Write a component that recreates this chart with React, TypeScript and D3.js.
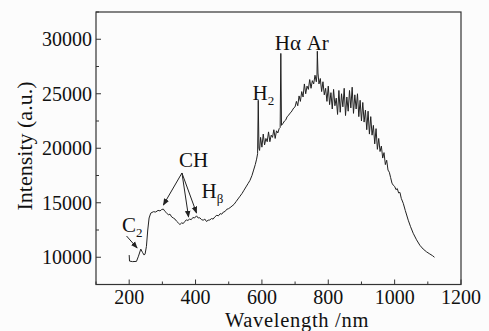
import { useMemo } from 'react'
import * as d3 from 'd3'

// spectrum: [wavelength nm, intensity a.u.]
const lowBand: [number, number][] = [
  [200, 10200], [201, 9650], [210, 9600], [222, 9620], [228, 10100], [235, 10750],
  [240, 10450], [245, 10200], [248, 10300], [252, 11000], [256, 12500], [260, 13600],
  [265, 14050], [273, 14180], [280, 14150], [287, 14300], [293, 14250], [298, 14380],
  [303, 14420], [308, 14200], [313, 14050], [318, 13900], [323, 13950], [328, 13700],
  [333, 13600], [338, 13500], [343, 13300], [348, 13150], [353, 13000], [358, 13150],
  [363, 13100], [368, 13300], [372, 13420], [377, 13380], [382, 13500], [387, 13450],
  [392, 13650], [397, 13600], [403, 13800], [408, 13600], [413, 13620], [418, 13450],
  [423, 13400], [428, 13500], [433, 13280], [438, 13400], [443, 13420], [448, 13550],
  [453, 13500], [458, 13700], [464, 13850], [469, 13800], [474, 14000], [479, 13950],
  [484, 14150], [489, 14200], [494, 14400], [499, 14450], [504, 14550], [510, 14700],
  [516, 14850], [522, 15100], [528, 15350], [534, 15600], [540, 15850], [546, 16150],
  [552, 16450], [558, 16750], [564, 17050], [570, 17500], [575, 18000], [580, 18500],
  [584, 19000], [587, 19500], [589, 24400], [591, 20000], [593, 19800],
]

const midBand: [number, number][] = [
  [596, 21000], [600, 20100], [604, 21300], [608, 20300], [612, 20900], [616, 20600],
  [620, 21500], [624, 20600], [628, 21200], [632, 21000], [636, 21700], [640, 20900],
  [644, 21600], [648, 21400], [652, 21800], [655, 21900], [657, 28700], [659, 22100],
  [664, 22300], [668, 22500], [672, 22600], [676, 22900], [680, 23000], [684, 23200],
  [688, 23300], [692, 23500], [696, 23700], [700, 23800], [704, 24300], [708, 23900],
  [712, 24800], [716, 24300], [720, 25200], [724, 24700], [728, 25900], [732, 25000],
  [736, 25700], [740, 25400], [744, 26300], [748, 25500], [752, 26200], [756, 25900],
  [760, 26700], [764, 26100], [766, 26800], [767, 28900], [769, 26900], [772, 25900],
]

const highBand: [number, number][] = [
  [776, 26400], [780, 25200], [784, 26100], [788, 24900], [792, 25500], [796, 24300],
  [800, 25700], [804, 24000], [808, 25100], [812, 23600], [816, 25400], [820, 23900],
  [824, 24600], [828, 23100], [832, 25300], [836, 23300], [840, 25000], [844, 23800],
  [848, 25500], [852, 23000], [856, 24700], [860, 23400], [864, 25300], [868, 23700],
  [872, 25600], [876, 23200], [880, 24900], [884, 23600], [888, 25000], [892, 22900],
  [896, 24400], [900, 22500], [904, 24200], [908, 22400], [912, 23500], [916, 21700],
  [920, 23400], [924, 21300], [928, 22900], [932, 21200], [936, 22100], [940, 20400],
  [944, 21800], [948, 19900], [952, 20900], [956, 19700], [960, 20200], [964, 19100],
  [968, 19600], [972, 18500], [976, 18900], [980, 18000], [984, 17800], [988, 17300],
  [992, 16800], [996, 16600], [1000, 16500], [1004, 16200], [1008, 16300], [1012, 15900],
  [1016, 15950], [1020, 15400], [1026, 14950], [1032, 14300], [1041, 13400], [1048, 12800],
  [1056, 12200], [1066, 11600], [1076, 11100], [1086, 10750], [1096, 10500], [1106, 10300],
  [1114, 10150], [1120, 10000],
]

const xTicks = [200, 400, 600, 800, 1000, 1200]
const yTicks = [10000, 15000, 20000, 25000, 30000]

// label anchors in data units (text start / baseline)
const labels = [
  { main: 'C', sub: '2', wl: 178, y: 12300 },
  { main: 'CH', sub: '', wl: 350, y: 18300 },
  { main: 'H', sub: 'β', wl: 418, y: 15400 },
  { main: 'H', sub: '2', wl: 572, y: 24430 },
  { main: 'Hα', sub: '', wl: 639, y: 29010 },
  { main: 'Ar', sub: '', wl: 735, y: 29010 },
]

// arrows: [from wl, from I, to wl, to I]
const arrows = [
  [192, 11950, 224, 10850],
  [359, 17730, 303, 14790],
  [359, 17730, 379, 13690],
  [359, 17730, 403, 14060],
]

const W = 489
const H = 331
const font = '"Liberation Serif", "Times New Roman", serif'

export default function App() {
  const x = d3.scaleLinear().domain([100, 1200]).range([96, 461])
  const y = d3.scaleLinear().domain([7500, 32500]).range([284.5, 12])

  const path = useMemo(() => {
    const line = d3.line<[number, number]>()
      .x(d => x(d[0]))
      .y(d => y(d[1]))
    return line([...lowBand, ...midBand, ...highBand]) || ''
  }, [])

  const xMinor = d3.range(100, 1201, 100)
  const yMinor = d3.range(7500, 32501, 2500)
  const [x0, x1] = x.range()
  const [y0, y1] = y.range()

  return (
    <svg width={W} height={H} style={{ position: 'absolute', left: 0, top: 0, background: '#fcfcfc' }}
      fontFamily={font}>
      <defs>
        <marker id="arr" viewBox="0 0 10 10" refX="9" refY="5" markerWidth="7" markerHeight="7"
          orient="auto-start-reverse" markerUnits="userSpaceOnUse">
          <path d="M0,1 L10,5 L0,9 z" fill="#222" />
        </marker>
      </defs>

      {/* frame */}
      <rect x={x0} y={y1} width={x1 - x0} height={y0 - y1} fill="none" stroke="#333" strokeWidth={1.2} />

      {/* ticks, pointing inward */}
      {xMinor.map(t => (
        <line key={'xt' + t} x1={x(t)} x2={x(t)} y1={y0} y2={y0 - (t % 200 === 0 ? 5 : 3)}
          stroke="#333" strokeWidth={1} />
      ))}
      {yMinor.map(t => (
        <line key={'yt' + t} x1={x0} x2={x0 + (t % 5000 === 0 ? 5 : 3)} y1={y(t)} y2={y(t)}
          stroke="#333" strokeWidth={1} />
      ))}

      {xTicks.map(t => (
        <text key={'xl' + t} x={x(t)} y={303.5} textAnchor="middle" fontSize={20} fill="#111">{t}</text>
      ))}
      {yTicks.map(t => (
        <text key={'yl' + t} x={x0 - 4} y={y(t)} dy="0.35em" textAnchor="end" fontSize={20} fill="#111">{t}</text>
      ))}

      <text x={297} y={326.5} textAnchor="middle" fontSize={20.5} letterSpacing={0.7} fill="#111">
        Wavelength /nm
      </text>
      <text transform={`translate(24,146) rotate(-90)`} textAnchor="middle" dy="0.35em" fontSize={22} fill="#111">
        Intensity (a.u.)
      </text>

      {/* spectrum */}
      <path d={path} fill="none" stroke="#222" strokeWidth={1} strokeLinejoin="round" />

      {arrows.map((a, i) => (
        <line key={'ar' + i} x1={x(a[0])} y1={y(a[1])} x2={x(a[2])} y2={y(a[3])}
          stroke="#222" strokeWidth={1} markerEnd="url(#arr)" />
      ))}

      {labels.map((l, i) => (
        <text key={'lb' + i} x={x(l.wl)} y={y(l.y)} fontSize={21} fill="#111">
          {l.main}
          {l.sub && <tspan fontSize={13} dy={5}>{l.sub}</tspan>}
        </text>
      ))}
    </svg>
  )
}
